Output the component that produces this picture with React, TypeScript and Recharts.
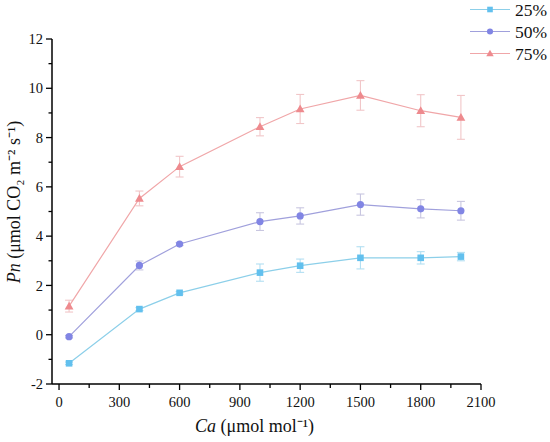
import { LineChart, Line, XAxis, YAxis, ErrorBar } from "recharts";

// CO2 concentration (Ca) levels
const caLevels = [50, 400, 600, 1000, 1200, 1500, 1800, 2000];

// net photosynthesis (Pn) and error bars per treatment
const pn25 = [-1.16, 1.04, 1.7, 2.52, 2.8, 3.12, 3.12, 3.17];
const err25 = [0.05, 0.06, 0.05, 0.35, 0.27, 0.45, 0.25, 0.17];
const pn50 = [-0.08, 2.81, 3.68, 4.59, 4.82, 5.28, 5.11, 5.03];
const err50 = [0.05, 0.18, 0.06, 0.36, 0.33, 0.43, 0.37, 0.38];
const pn75 = [1.16, 5.53, 6.82, 8.44, 9.16, 9.71, 9.09, 8.82];
const err75 = [0.24, 0.3, 0.42, 0.37, 0.59, 0.6, 0.65, 0.89];

const xTicks = [0, 150, 300, 450, 600, 750, 900, 1050, 1200, 1350, 1500, 1650, 1800, 1950, 2100];
const yTicks = [-2, -1, 0, 1, 2, 3, 4, 5, 6, 7, 8, 9, 10, 11, 12];

const font = "Liberation Serif, Times New Roman, serif";
const txt = { fontFamily: font };

const data = caLevels.map((ca, i) => ({
  ca,
  p25: pn25[i],
  e25: err25[i],
  p50: pn50[i],
  e50: err50[i],
  p75: pn75[i],
  e75: err75[i],
}));

type Shape = "square" | "circle" | "triangle";

const series: { key: string; err: string; name: string; color: string; line: string; errColor: string; shape: Shape }[] = [
  { key: "p25", err: "e25", name: "25%", color: "#62c0ee", line: "#8ccfe9", errColor: "#b2dff2", shape: "square" },
  { key: "p50", err: "e50", name: "50%", color: "#8185e4", line: "#a0a0dc", errColor: "#c8c6e0", shape: "circle" },
  { key: "p75", err: "e75", name: "75%", color: "#ee8a8e", line: "#f0a6a8", errColor: "#f1c6c8", shape: "triangle" },
];

function Marker({ cx, cy, shape, color, size = 1 }: { cx: number; cy: number; shape: Shape; color: string; size?: number }) {
  if (shape === "square") {
    const h = 3.3 * size;
    return <rect x={cx - h} y={cy - h} width={h * 2} height={h * 2} fill={color} />;
  }
  if (shape === "circle") {
    return <circle cx={cx} cy={cy} r={3.6 * size} fill={color} />;
  }
  const s = 4.4 * size;
  return <polygon points={`${cx},${cy - s} ${cx - s},${cy + s * 0.75} ${cx + s},${cy + s * 0.75}`} fill={color} />;
}

const XTick = ({ x, y, payload }: any) => {
  const major = payload.value % 300 === 0;
  return (
    <g>
      <line x1={x} y1={y} x2={x} y2={y + (major ? 6 : 4)} stroke="#000" strokeWidth={1.3} />
      {major && (
        <text x={x} y={y + 22.5} textAnchor="middle" fontSize={14.5} style={txt} fill="#111">
          {payload.value}
        </text>
      )}
    </g>
  );
};

const YTick = ({ x, y, payload }: any) => {
  const major = payload.value % 2 === 0;
  return (
    <g>
      <line x1={x} y1={y} x2={x - (major ? 6 : 3.5)} y2={y} stroke="#000" strokeWidth={1.3} />
      {major && (
        <text x={x - 9} y={y} dy="0.35em" textAnchor="end" fontSize={14.5} style={txt} fill="#111">
          {payload.value}
        </text>
      )}
    </g>
  );
};

function LegendBox() {
  return (
    <svg width={100} height={70} style={{ position: "absolute", left: 450, top: 0 }}>
      {series.map((s, i) => {
        const y = 9.5 + i * 22;
        return (
          <g key={s.key}>
            <line x1={20} y1={y} x2={60} y2={y} stroke={s.line} strokeWidth={1.2} />
            <Marker cx={40} cy={y} shape={s.shape} color={s.color} size={0.85} />
            <text x={65} y={y} dy="0.35em" fontSize={17.5} style={txt} fill="#111">
              {s.name}
            </text>
          </g>
        );
      })}
    </svg>
  );
}

export default function App() {
  return (
    <div style={{ position: "absolute", left: 0, top: 0, width: 550, height: 442, background: "#fff", fontFamily: font }}>
      <LineChart width={550} height={442} data={data} margin={{ top: 39, right: 69, bottom: 0, left: 0 }}>
        <XAxis
          type="number"
          dataKey="ca"
          domain={[-35, 2100]}
          ticks={xTicks}
          interval={0}
          allowDataOverflow
          height={58}
          tickSize={0}
          tickMargin={0}
          tickLine={false}
          tick={<XTick />}
          axisLine={{ stroke: "#000", strokeWidth: 1.5 }}
        />
        <YAxis
          type="number"
          domain={[-2, 12]}
          ticks={yTicks}
          interval={0}
          allowDataOverflow
          width={52}
          tickSize={0}
          tickMargin={0}
          tickLine={false}
          tick={<YTick />}
          axisLine={{ stroke: "#000", strokeWidth: 1.5 }}
        />
        {series.map((s) => (
          <Line
            key={s.key}
            dataKey={s.key}
            name={s.name}
            type="linear"
            stroke={s.line}
            strokeWidth={1.2}
            isAnimationActive={false}
            dot={(p: any) => <Marker key={`${s.key}-${p.index}`} cx={p.cx} cy={p.cy} shape={s.shape} color={s.color} />}
            activeDot={false}
          >
            <ErrorBar dataKey={s.err} direction="y" width={4} stroke={s.errColor} strokeWidth={1.1} isAnimationActive={false} />
          </Line>
        ))}
      </LineChart>
      <svg width={550} height={442} style={{ position: "absolute", left: 0, top: 0, pointerEvents: "none" }}>
        <text
          x={19.5}
          y={202}
          transform="rotate(-90, 19.5, 202)"
          textAnchor="middle"
          fontSize={18}
          style={txt}
          fill="#111"
        >
          <tspan fontStyle="italic">Pn</tspan> (μmol CO₂ m⁻² s⁻¹)
        </text>
        <text x={254.5} y={432} textAnchor="middle" fontSize={18} style={txt} fill="#111">
          <tspan fontStyle="italic">Ca</tspan> (μmol mol⁻¹)
        </text>
      </svg>
      <LegendBox />
    </div>
  );
}
